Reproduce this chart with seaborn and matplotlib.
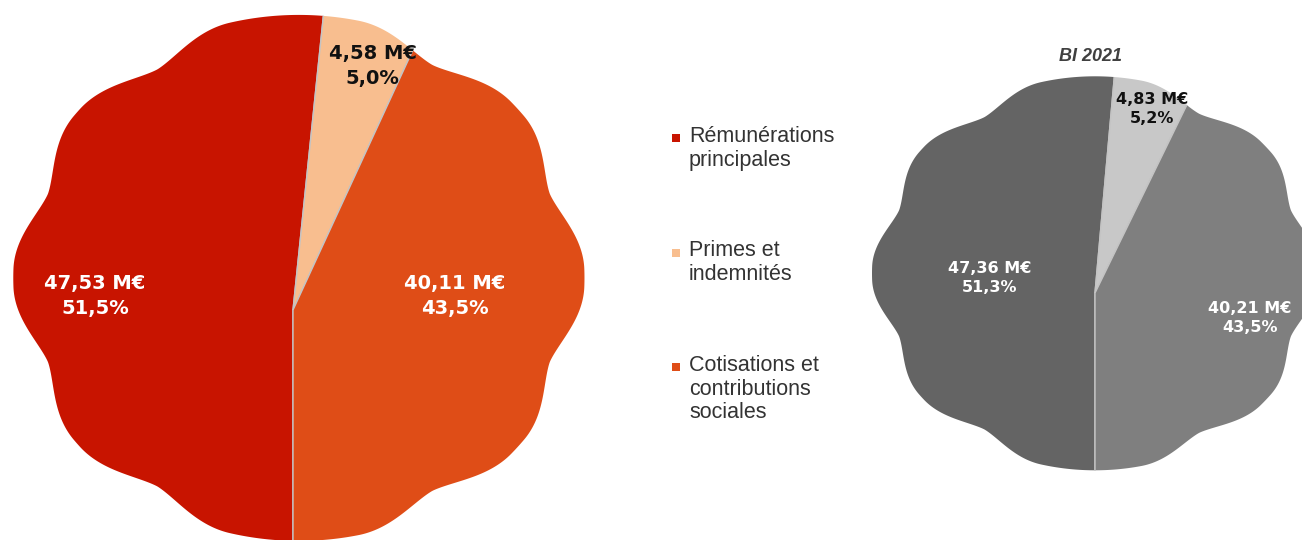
import numpy as np
import matplotlib
matplotlib.use("Agg")
import matplotlib.pyplot as plt
import seaborn as sns
from matplotlib.patches import Polygon

# ---------- DONNÉES ----------
CATEGORIES = ["Rémunérations\nprincipales", "Primes et\nindemnités",
              "Cotisations et\ncontributions\nsociales"]
VALEURS_2022 = [47.53, 4.58, 40.11]   # M€
PARTS_2022 = [51.5, 5.0, 43.5]        # %
VALEURS_2021 = [47.36, 4.83, 40.21]   # M€
PARTS_2021 = [51.3, 5.2, 43.5]        # %
TITRE_2021 = "BI 2021"

COULEURS_2022 = ["#C81400", "#F8BE8F", "#DF4D17"]
COULEURS_2021 = ["#646464", "#C8C8C8", "#7F7F7F"]
TEXTE_2022 = ["white", "#111111", "white"]
TEXTE_2021 = ["white", "#111111", "white"]

# angles des creux du contour festonné (degrés)
CREUX = [20, 60, 122, 160, 200, 238, 300, 340]

W, H = 1302, 540

sns.set_theme(style="white")
plt.rcParams['font.family'] = ['DejaVu Sans']


def contour_festonne(cx, cy, sx=1.0, amp=0.065, larg=18.0, n=1440):
    th = np.linspace(0, 360, n, endpoint=False)
    c = np.array(CREUX)
    # distance angulaire au creux le plus proche
    d = np.abs((th[:, None] - c[None, :] + 180) % 360 - 180).min(axis=1)
    u = np.clip(d / larg, 0, 1)
    r = 1 - amp + amp * np.sin(np.pi * u / 2) ** 1.6
    rad = np.radians(th)
    return np.column_stack([cx + sx * r * np.cos(rad), cy + r * np.sin(rad)])


def fmt(v, p):
    return f"{v:.2f} M€".replace('.', ',') + "\n" + f"{p:.1f}%".replace('.', ',')


def camembert(fig, x0, x1, cx, cy, hw, hh, forme_xy, valeurs, parts, couleurs,
              couleurs_txt, pos_labels, taille):
    ax = fig.add_axes([x0 / W, 0, (x1 - x0) / W, 1])
    wedges, _ = ax.pie(valeurs, colors=sns.color_palette(couleurs),
                       startangle=270, counterclock=False, radius=2.5,
                       wedgeprops=dict(edgecolor="#c4c4c4", linewidth=1.0))
    ax.set_aspect('auto')
    ax.set_xlim((x0 - cx) / hw, (x1 - cx) / hw)
    ax.set_ylim((cy - H) / hh, cy / hh)
    ax.axis('off')
    forme = Polygon(forme_xy, closed=True, facecolor='none', edgecolor='none')
    ax.add_patch(forme)
    for w in wedges:
        w.set_clip_on(True)
        w.set_clip_path(forme)
    for (lx, ly), v, p, c in zip(pos_labels, valeurs, parts, couleurs_txt):
        ax.text(lx, ly, fmt(v, p), ha='center', va='center', color=c,
                fontsize=taille, fontweight='bold', linespacing=1.35)
    return ax


fig = plt.figure(figsize=(W / 100, H / 100), dpi=100)
fig.patch.set_facecolor('white')

# légende
lg = fig.add_axes([0, 0, 1, 1])
lg.set_xlim(0, W)
lg.set_ylim(H, 0)
lg.axis('off')
for i, (cat, col) in enumerate(zip(CATEGORIES, COULEURS_2022)):
    y = 138 + i * 114.5
    lg.scatter([676], [y], marker='s', s=32, color=col, linewidths=0)
    lg.text(689, y - 12, cat, ha='left', va='top', fontsize=15.5,
            color='#333333', family=['Liberation Sans'], linespacing=1.17)

# camembert principal
camembert(fig, 0, 620, 293, 310, 280, 263,
          contour_festonne(0.021, 0.122, sx=1.02),
          VALEURS_2022, PARTS_2022, COULEURS_2022, TEXTE_2022,
          [(-0.707, 0.053), (0.285, 0.928), (0.579, 0.053)], 14)

# camembert BI 2021
ax2 = camembert(fig, 840, W, 1095, 293, 223, 197,
                contour_festonne(0.0, 0.10),
                VALEURS_2021, PARTS_2021, COULEURS_2021, TEXTE_2021,
                [(-0.471, 0.076), (0.256, 0.934), (0.695, -0.127)], 11.5)
ax2.text(-0.02, 1.20, TITRE_2021, ha='center', va='center', fontsize=13,
         fontweight='bold', fontstyle='italic', color='#404040',
         family=['Liberation Sans'])

fig.savefig("out.png", dpi=100, facecolor='white')
